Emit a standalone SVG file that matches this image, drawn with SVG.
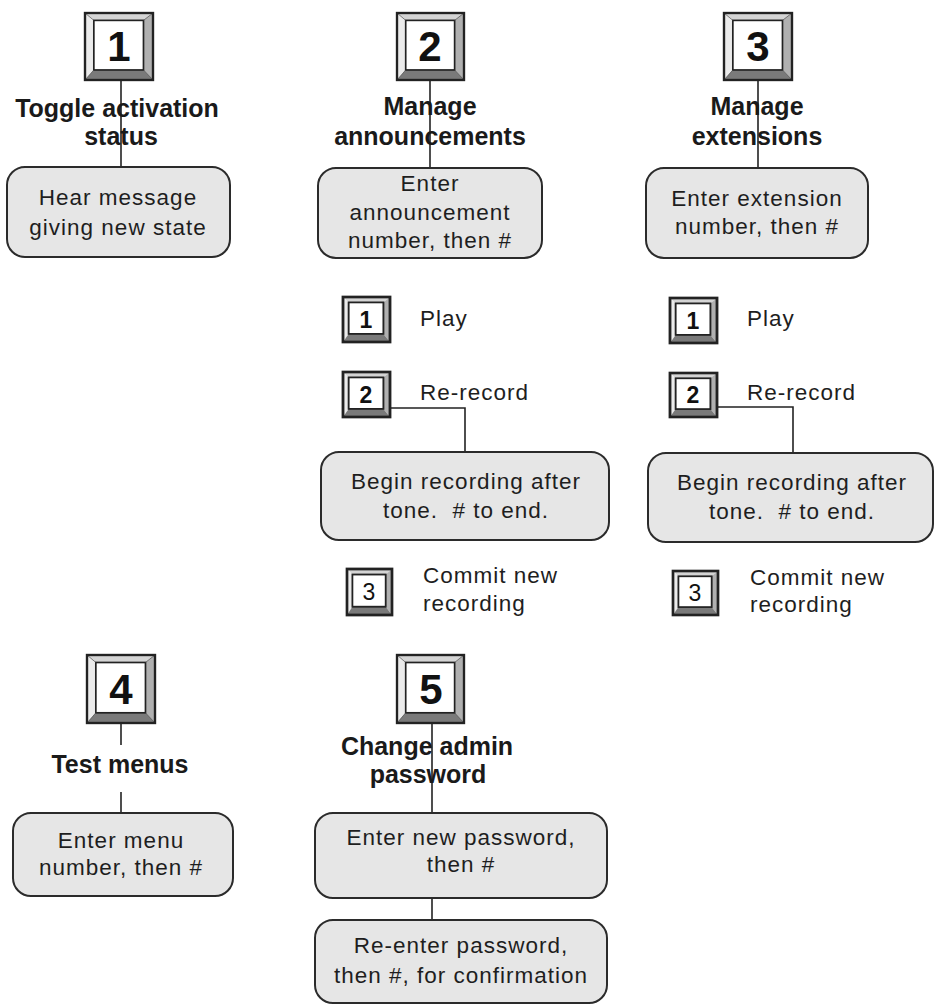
<svg xmlns="http://www.w3.org/2000/svg" xmlns:xlink="http://www.w3.org/1999/xlink" width="935" height="1007" viewBox="0 0 935 1007">
<style>
.bg{fill:#ffffff}
.box{fill:#e6e6e6;stroke:#2b2b2b;stroke-width:2}
.conn{fill:none;stroke:#222;stroke-width:1.6}
.t{font-family:"Liberation Sans",Arial,sans-serif;font-size:22.5px;fill:#1e1e1e;letter-spacing:1px;white-space:pre}
.tm{text-anchor:middle}
.title{font-family:"Liberation Sans",Arial,sans-serif;font-size:25px;font-weight:bold;fill:#1a1a1a;text-anchor:middle}
.kbig{font-family:"Liberation Sans",Arial,sans-serif;font-size:42px;font-weight:bold;fill:#111;text-anchor:middle}
.ksm{font-family:"Liberation Sans",Arial,sans-serif;font-size:23px;font-weight:bold;fill:#111;text-anchor:middle}
.ksmr{font-family:"Liberation Sans",Arial,sans-serif;font-size:23px;fill:#111;text-anchor:middle}
</style>
<defs>
<symbol id="key" viewBox="0 0 100 100" preserveAspectRatio="none" overflow="visible">
<polygon points="0,0 100,0 86,11 13,11" fill="#d4d4d4"/>
<polygon points="0,0 13,11 13,85 0,100" fill="#ebebeb"/>
<polygon points="100,0 100,100 86,85 86,11" fill="#b0b0b0"/>
<polygon points="0,100 13,85 86,85 100,100" fill="#7a7a7a"/>
<rect x="13" y="11" width="73" height="74" fill="#ffffff" stroke="#222" stroke-width="2.5"/>
<line x1="0" y1="0" x2="13" y2="11" stroke="#444" stroke-width="1"/>
<line x1="100" y1="0" x2="86" y2="11" stroke="#444" stroke-width="1"/>
<line x1="0" y1="100" x2="13" y2="85" stroke="#444" stroke-width="1"/>
<line x1="100" y1="100" x2="86" y2="85" stroke="#444" stroke-width="1"/>
<rect x="0" y="0" width="100" height="100" fill="none" stroke="#222" stroke-width="3.5"/>
</symbol>
<symbol id="keysm" viewBox="0 0 100 100" preserveAspectRatio="none" overflow="visible">
<polygon points="0,0 100,0 86,12 12,12" fill="#d4d4d4"/>
<polygon points="0,0 12,12 12,82 0,100" fill="#ebebeb"/>
<polygon points="100,0 100,100 86,82 86,12" fill="#b0b0b0"/>
<polygon points="0,100 12,82 86,82 100,100" fill="#7a7a7a"/>
<rect x="12" y="12" width="74" height="70" fill="#ffffff" stroke="#222" stroke-width="4"/>
<rect x="0" y="0" width="100" height="100" fill="none" stroke="#222" stroke-width="6"/>
</symbol>
</defs>
<rect class="bg" x="0" y="0" width="935" height="1007"/>

<g id="connectors">
<line class="conn" x1="121" y1="80" x2="121" y2="167"/>
<line class="conn" x1="430" y1="80" x2="430" y2="168"/>
<line class="conn" x1="758" y1="80" x2="758" y2="168"/>
<path class="conn" d="M390,408 H465 V452"/>
<path class="conn" d="M717,407 H793 V453"/>
<line class="conn" x1="121" y1="723" x2="121" y2="745"/>
<line class="conn" x1="121" y1="792" x2="121" y2="813"/>
<line class="conn" x1="432" y1="723" x2="432" y2="813"/>
<line class="conn" x1="432" y1="898" x2="432" y2="920"/>
</g>

<g id="key1">
<use xlink:href="#key" x="85" y="13" width="68" height="67"/>
<text class="kbig" x="119" y="61">1</text>
</g>
<g id="title1">
<text class="title" x="117" y="117">Toggle activation</text>
<text class="title" x="121" y="145">status</text>
</g>
<g id="box1">
<rect class="box" x="7" y="167" width="223" height="90" rx="18"/>
<text class="t tm" x="118" y="205">Hear message</text>
<text class="t tm" x="118" y="235">giving new state</text>
</g>

<g id="key2">
<use xlink:href="#key" x="397" y="13" width="67" height="67"/>
<text class="kbig" x="430" y="61">2</text>
</g>
<g id="title2">
<text class="title" x="430" y="115">Manage</text>
<text class="title" x="430" y="145">announcements</text>
</g>
<g id="box2">
<rect class="box" x="318" y="168" width="224" height="90" rx="18"/>
<text class="t tm" x="430" y="191">Enter</text>
<text class="t tm" x="430" y="220">announcement</text>
<text class="t tm" x="430" y="248">number, then #</text>
</g>

<g id="key3">
<use xlink:href="#key" x="724" y="13" width="68" height="67"/>
<text class="kbig" x="758" y="61">3</text>
</g>
<g id="title3">
<text class="title" x="757" y="115">Manage</text>
<text class="title" x="757" y="145">extensions</text>
</g>
<g id="box3">
<rect class="box" x="646" y="168" width="222" height="90" rx="18"/>
<text class="t tm" x="757" y="206">Enter extension</text>
<text class="t tm" x="757" y="234">number, then #</text>
</g>

<g id="key2-1">
<use xlink:href="#keysm" x="343" y="297" width="47" height="45"/>
<text class="ksm" x="366" y="328">1</text>
<text class="t" x="420" y="326">Play</text>
</g>
<g id="key2-2">
<use xlink:href="#keysm" x="343" y="372" width="47" height="45"/>
<text class="ksm" x="366" y="403">2</text>
<text class="t" x="420" y="400">Re-record</text>
</g>
<g id="box2-rec">
<rect class="box" x="321" y="452" width="288" height="88" rx="18"/>
<text class="t tm" x="466" y="489">Begin recording after</text>
<text class="t tm" x="466" y="518" xml:space="preserve">tone.  # to end.</text>
</g>
<g id="key2-3">
<use xlink:href="#keysm" x="347" y="569" width="45" height="46"/>
<text class="ksmr" x="369" y="600">3</text>
<text class="t" x="423" y="583">Commit new</text>
<text class="t" x="423" y="611">recording</text>
</g>

<g id="key3-1">
<use xlink:href="#keysm" x="670" y="298" width="47" height="45"/>
<text class="ksm" x="693" y="329">1</text>
<text class="t" x="747" y="326">Play</text>
</g>
<g id="key3-2">
<use xlink:href="#keysm" x="670" y="373" width="47" height="44"/>
<text class="ksm" x="693" y="403">2</text>
<text class="t" x="747" y="400">Re-record</text>
</g>
<g id="box3-rec">
<rect class="box" x="648" y="453" width="285" height="89" rx="18"/>
<text class="t tm" x="792" y="490">Begin recording after</text>
<text class="t tm" x="792" y="519" xml:space="preserve">tone.  # to end.</text>
</g>
<g id="key3-3">
<use xlink:href="#keysm" x="673" y="571" width="45" height="44"/>
<text class="ksmr" x="695" y="601">3</text>
<text class="t" x="750" y="585">Commit new</text>
<text class="t" x="750" y="612">recording</text>
</g>

<g id="key4">
<use xlink:href="#key" x="87" y="655" width="68" height="68"/>
<text class="kbig" x="121" y="704">4</text>
</g>
<g id="title4">
<text class="title" x="120" y="773">Test menus</text>
</g>
<g id="box4">
<rect class="box" x="13" y="813" width="220" height="83" rx="18"/>
<text class="t tm" x="121" y="848">Enter menu</text>
<text class="t tm" x="121" y="875">number, then #</text>
</g>

<g id="key5">
<use xlink:href="#key" x="397" y="655" width="67" height="68"/>
<text class="kbig" x="431" y="704">5</text>
</g>
<g id="title5">
<text class="title" x="427" y="755">Change admin</text>
<text class="title" x="428" y="783">password</text>
</g>
<g id="box5a">
<rect class="box" x="315" y="813" width="292" height="85" rx="18"/>
<text class="t tm" x="461" y="845">Enter new password,</text>
<text class="t tm" x="461" y="872">then #</text>
</g>
<g id="box5b">
<rect class="box" x="315" y="920" width="292" height="83" rx="18"/>
<text class="t tm" x="461" y="953">Re-enter password,</text>
<text class="t tm" x="461" y="983">then #, for confirmation</text>
</g>
</svg>
